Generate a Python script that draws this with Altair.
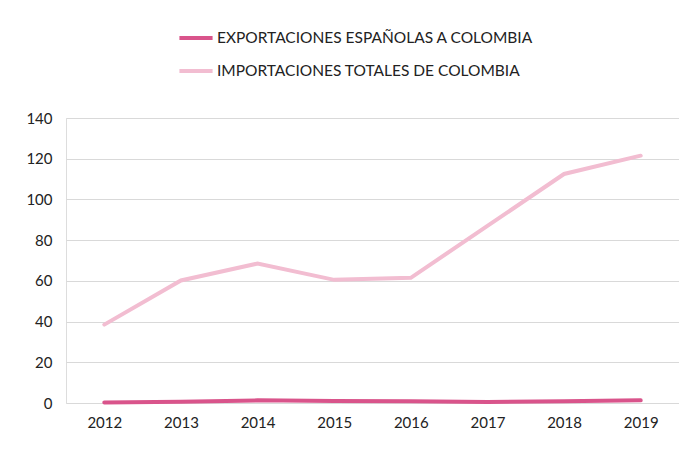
import altair as alt
import pandas as pd

years = ["2012", "2013", "2014", "2015", "2016", "2017", "2018", "2019"]
exportaciones = [0.3, 0.6, 1.3, 1.0, 0.9, 0.5, 0.8, 1.3]
importaciones = [38.5, 60.2, 68.5, 60.5, 61.5, 87.0, 112.5, 121.5]
series_names = ["EXPORTACIONES ESPAÑOLAS A COLOMBIA", "IMPORTACIONES TOTALES DE COLOMBIA"]
series_colors = ["#d9548b", "#f2bdd1"]
y_ticks = [0, 20, 40, 60, 80, 100, 120, 140]

rows = []
for i, y in enumerate(years):
    rows.append({"Año": y, "Serie": series_names[0], "Valor": exportaciones[i]})
    rows.append({"Año": y, "Serie": series_names[1], "Valor": importaciones[i]})
df = pd.DataFrame(rows)

FONT = "Lato"

chart = alt.Chart(df).mark_line(strokeWidth=4, strokeCap="round").encode(
    x=alt.X("Año:N", sort=years, title=None,
            scale=alt.Scale(padding=0.5),
            axis=alt.Axis(labelAngle=0, domain=False, ticks=False, grid=False,
                          labelPadding=12, labelFontSize=15, labelColor="#222222", labelFont=FONT)),
    y=alt.Y("Valor:Q", title=None,
            scale=alt.Scale(domain=[0, 140], nice=False),
            axis=alt.Axis(values=y_ticks, domain=False, ticks=False, grid=True,
                          gridColor="#d9d9d9", gridWidth=1.2, labelPadding=14,
                          labelFontSize=15, labelColor="#222222", labelFont=FONT)),
    color=alt.Color("Serie:N", sort=series_names,
                    scale=alt.Scale(domain=series_names, range=series_colors),
                    legend=alt.Legend(title=None, orient="none", legendX=111, legendY=-99,
                                      direction="vertical", symbolType="stroke",
                                      symbolStrokeWidth=4, symbolSize=1100,
                                      rowPadding=5, labelFontSize=15.5, labelFont=FONT,
                                      labelLimit=500,
                                      labelColor="#222222", labelOffset=2)),
).properties(
    width=613, height=285,
    autosize=alt.AutoSizeParams(type="none"),
    padding={"left": 58, "top": 110, "right": 0, "bottom": 36},
).configure_view(stroke=None).configure(background="white")

chart.save("out.html", embed_options={"renderer": "svg", "actions": False})
